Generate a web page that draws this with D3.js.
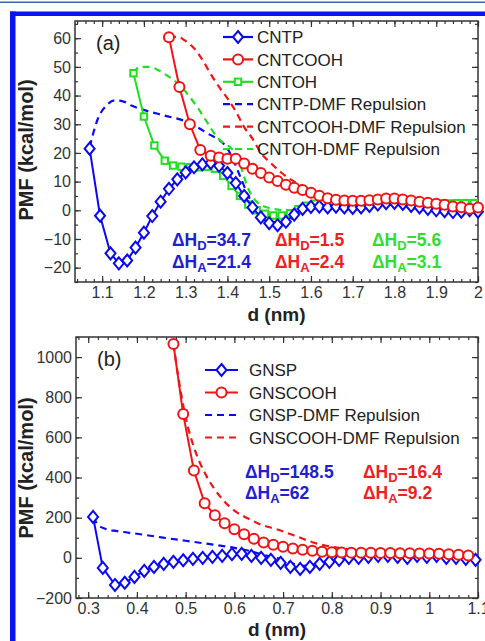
<!DOCTYPE html>
<html>
<head>
<meta charset="UTF-8">
<title>PMF vs distance</title>
<script src="https://d3js.org/d3.v7.min.js"></script>
<style>
  body { margin: 0; background: #fff; }
  svg { display: block; font-family: "Liberation Sans", Arial, sans-serif; }
  .tick text { font-size: 16px; fill: #333; }
  .tick line { stroke: #333; stroke-width: 1.2; }
  .legend text { font-size: 17px; fill: #222; }
  .axis-title { font-size: 20px; font-weight: bold; fill: #222; }
  .x-title { font-size: 19px; }
  .note { font-size: 17.5px; font-weight: bold; }
</style>
</head>
<body>
<svg width="485" height="641"></svg>
<script>
// ---- panel (a): CNT ----
const cntpD = [1.07,1.095,1.12,1.14,1.16,1.18,1.20,1.22,1.24,1.26,1.28,1.30,1.32,1.34,1.36,1.38,1.40,1.42,1.44,1.46,1.48,1.50,1.52,1.54,1.56,1.58,1.60,1.62,1.64,1.66,1.68,1.70,1.72,1.74,1.76,1.78,1.80,1.82,1.84,1.86,1.88,1.90,1.92,1.94,1.96,1.98,2.00];
const cntpPMF = [21.5,-1.9,-15,-18.5,-17.5,-13,-7.8,-2,3,7.5,10.8,13.2,15,16,16.5,15.5,13,9.5,5,1,-2.5,-4.5,-5.2,-4,-1.5,0.5,1.2,1.3,1.0,1.3,1.0,0.8,1.0,1.5,2.0,2.5,2.6,2.2,1.5,1.0,0.5,0.0,-0.3,-0.6,-0.5,0.0,-0.5];
const cntcoohD = [1.26,1.285,1.31,1.335,1.36,1.38,1.40,1.42,1.44,1.46,1.48,1.50,1.52,1.54,1.56,1.58,1.60,1.62,1.64,1.66,1.68,1.70,1.72,1.74,1.76,1.78,1.80,1.82,1.84,1.86,1.88,1.90,1.92,1.94,1.96,1.98,2.00];
const cntcoohPMF = [60.3,43,30,21,19,18.4,18,18,16.3,14.5,13,11.4,10.2,8.9,7.9,7.1,6.1,5.1,4.2,3.7,3.4,3.3,3.3,3.5,3.8,4.1,4.1,3.8,3.4,3.0,2.6,2.3,1.9,1.3,1.1,0.5,1.0];
const cntohD = [1.175,1.20,1.225,1.25,1.27,1.29,1.31,1.33,1.35,1.37,1.39,1.41,1.43,1.45,1.47,1.49,1.51,1.53,1.55,1.57,1.59,1.61,1.63,1.65,1.67,1.69,1.71,1.73,1.75,1.77,1.79,1.81,1.83,1.85,1.87,1.89,1.91,1.93,1.95,1.97,1.99];
const cntohPMF = [47.8,32.7,22.6,17.3,15.6,15.2,15.0,15.0,15.2,14.5,12.0,8.5,5.0,2.0,0.0,-1.2,-1.8,-1.8,-1.0,0.4,1.6,2.3,2.5,2.7,2.8,2.8,2.7,2.7,2.8,3.0,3.1,3.0,2.8,2.6,2.5,2.4,2.4,2.4,2.5,2.5,2.5];
const cntpRepD = [1.07,1.09,1.11,1.13,1.15,1.17,1.20,1.25,1.30,1.35,1.40,1.43,1.45,1.47,1.50,1.53,1.56,1.60,1.65,1.70,1.80,1.90,2.00];
const cntpRepPMF = [22,32,36.5,38.3,38,36.5,35,33,31,27,21.5,12,5,0,-3.5,-4.5,-2.5,0.5,1.0,1.0,2.0,0.5,0];
const cntcoohRepD = [1.26,1.28,1.30,1.32,1.34,1.36,1.38,1.40,1.42,1.44,1.46,1.48,1.50,1.53,1.56,1.60,1.65,1.70,1.75,1.80,1.85,1.90,1.95,2.00];
const cntcoohRepPMF = [60.5,60.5,59,56.5,52.5,47.5,43,39,34.5,29,25,20,17,13,10,7,4.2,3.4,3.6,4.1,3.2,2.3,1.2,1.0];
const cntohRepD = [1.175,1.19,1.21,1.23,1.25,1.27,1.29,1.31,1.33,1.35,1.37,1.39,1.41,1.43,1.45,1.47,1.50,1.55,1.60,1.65,1.70,1.80,1.90,2.00];
const cntohRepPMF = [47.8,50,50,49.2,47.5,45.5,43,39.5,35.5,31,26.5,23.5,21.5,16,7.5,3,0.8,-0.1,1.2,2,2.2,2.6,1.9,2];

// ---- panel (b): GNS ----
const gnspD = [0.31,0.33,0.355,0.375,0.395,0.415,0.435,0.455,0.475,0.495,0.515,0.535,0.555,0.575,0.595,0.615,0.635,0.655,0.675,0.695,0.715,0.735,0.755,0.775,0.795,0.815,0.835,0.855,0.875,0.895,0.915,0.935,0.955,0.975,0.995,1.015,1.035,1.055,1.075,1.095];
const gnspPMF = [204,-50,-135,-124,-95,-65,-45,-30,-20,-12,-5,0,5,10,18,20,10,0,-10,-25,-45,-55,-45,-30,-20,-10,0,0,5,10,10,5,0,10,5,10,0,0,-5,-10];
const gnscoohD = [0.475,0.495,0.517,0.539,0.56,0.58,0.60,0.62,0.64,0.66,0.68,0.70,0.72,0.74,0.76,0.78,0.80,0.82,0.84,0.86,0.88,0.90,0.92,0.94,0.96,0.98,1.00,1.02,1.04,1.06,1.08];
const gnscoohPMF = [1065,716,435,272,212,172,143,118,95,77,65,55,46,40,35,30,28,27,26,25,25,24,24,23,23,22,22,20,18,15,12];
const gnspRepD = [0.31,0.32,0.335,0.36,0.40,0.45,0.50,0.55,0.60,0.63,0.66,0.70,0.74,0.78,0.82,0.86,0.90,0.95,1.00,1.05,1.10];
const gnspRepPMF = [204,165,145,133,120,102,85,68,50,35,15,-10,-40,-25,-8,2,8,4,6,2,-8];
const gnscoohRepD = [0.475,0.485,0.50,0.52,0.54,0.56,0.58,0.60,0.625,0.65,0.69,0.73,0.76,0.80,0.85,0.90,0.95,1.00,1.05,1.10];
const gnscoohRepPMF = [1065,900,700,530,420,340,280,235,200,170,140,105,78,55,40,32,28,25,20,12];

// ticks
const aXTicks = [1.1,1.2,1.3,1.4,1.5,1.6,1.7,1.8,1.9,2];
const aYTicks = [-20,-10,0,10,20,30,40,50,60];
const bXTicks = [0.3,0.4,0.5,0.6,0.7,0.8,0.9,1,1.1];
const bYTicks = [-200,0,200,400,600,800,1000];

const BLUE = "#0a0af0", RED = "#f01414", GREEN = "#1ee01e";

const svg = d3.select("svg");

// outer blue frame
svg.append("rect").attr("x", 0).attr("y", 1.5).attr("width", 485).attr("height", 1.5).attr("fill", "#3a64a8");
svg.append("rect").attr("x", 10).attr("y", 11.5).attr("width", 475).attr("height", 4.5).attr("fill", "#0a14f0");
svg.append("rect").attr("x", 10).attr("y", 11.5).attr("width", 5.5).attr("height", 630).attr("fill", "#0a14f0");

const fmt = d => d < 0 ? "\u2212" + Math.abs(d) : String(d);

function range(a, b, s) {
  const out = [];
  for (let i = 0; a + i * s <= b + 1e-9; i++) out.push(+(a + i * s).toFixed(4));
  return out;
}

function marker(sel, type, color) {
  if (type === "diamond") {
    sel.append("path").attr("d", "M0,-6L5,0L0,6L-5,0Z");
  } else if (type === "circle") {
    sel.append("circle").attr("r", 5);
  } else {
    sel.append("rect").attr("x", -3.2).attr("y", -3.2).attr("width", 6.4).attr("height", 6.4);
  }
  sel.selectAll("path,circle,rect").attr("fill", "#fff").attr("stroke", color).attr("stroke-width", 2);
}

function panel(p) {
  const x = d3.scaleLinear().domain(p.xDom).range([p.left, p.right]);
  const y = d3.scaleLinear().domain(p.yDom).range([p.bottom, p.top]);
  const g = svg.append("g");

  const axes = [
    [() => d3.axisBottom(x), p.bottom, "x", true],
    [() => d3.axisTop(x), p.top, "x", false],
    [() => d3.axisLeft(y), p.left, "y", true],
    [() => d3.axisRight(y), p.right, "y", false]
  ];
  axes.forEach(([mk, pos, dir, labels]) => {
    const tr = dir === "x" ? `translate(0,${pos})` : `translate(${pos},0)`;
    g.append("g").attr("transform", tr)
      .call(mk().tickValues(dir === "x" ? p.xMinor : p.yMinor).tickSize(-3).tickFormat(""))
      .call(s => s.select(".domain").remove());
    g.append("g").attr("transform", tr)
      .call(mk().tickValues(dir === "x" ? p.xTicks : p.yTicks).tickSize(-6)
        .tickPadding(dir === "x" ? 5 : 4).tickFormat(labels ? fmt : ""))
      .call(s => s.select(".domain").remove());
  });

  g.append("rect").attr("x", p.left).attr("y", p.top)
    .attr("width", p.right - p.left).attr("height", p.bottom - p.top)
    .attr("fill", "none").attr("stroke", "#333").attr("stroke-width", 1.5);

  // dashed repulsion curves
  const smooth = d3.line().x(d => x(d[0])).y(d => y(d[1])).curve(d3.curveMonotoneX);
  p.dashed.forEach(s => {
    g.append("path").attr("d", smooth(d3.zip(s.d, s.v)))
      .attr("fill", "none").attr("stroke", s.color).attr("stroke-width", 2.2)
      .attr("stroke-dasharray", "7,5");
  });

  // solid PMF curves with markers
  const straight = d3.line().x(d => x(d[0])).y(d => y(d[1]));
  p.solid.forEach(s => {
    const pts = d3.zip(s.d, s.v);
    g.append("path").attr("d", straight(pts))
      .attr("fill", "none").attr("stroke", s.color).attr("stroke-width", 2);
    g.selectAll(null).data(pts).enter().append("g")
      .attr("transform", d => `translate(${x(d[0])},${y(d[1])})`)
      .each(function () { marker(d3.select(this), s.marker, s.color); });
  });

  // panel label
  g.append("text").attr("x", p.left + 21).attr("y", p.top + 29)
    .attr("font-size", 20).attr("fill", "#222").text(p.label);

  // legend
  const lg = g.append("g").attr("class", "legend");
  p.legend.items.forEach((it, i) => {
    const ly = p.legend.y + i * p.legend.step;
    const x0 = p.legend.x0, x1 = p.legend.x1;
    lg.append("line").attr("x1", x0).attr("x2", x1).attr("y1", ly).attr("y2", ly)
      .attr("stroke", it.color).attr("stroke-width", 2.2)
      .attr("stroke-dasharray", it.marker ? null : "7,5");
    if (it.marker) {
      const m = lg.append("g").attr("transform", `translate(${(x0 + x1) / 2},${ly})`);
      marker(m, it.marker, it.color);
    }
    lg.append("text").attr("x", p.legend.tx).attr("y", ly).attr("dy", "0.36em").text(it.label);
  });

  // enthalpy notes
  p.notes.forEach(n => {
    ["D", "A"].forEach((sub, j) => {
      const t = g.append("text").attr("class", "note").attr("fill", n.color)
        .attr("x", n.x).attr("y", p.noteY[j]);
      t.append("tspan").text("\u0394H");
      t.append("tspan").attr("font-size", 13).attr("dy", 4).text(sub);
      t.append("tspan").attr("dy", -4).text("=" + n.vals[j]);
    });
  });

  // axis titles
  g.append("text").attr("class", "axis-title x-title").attr("text-anchor", "middle")
    .attr("x", (p.left + p.right) / 2).attr("y", p.xTitleY).text("d (nm)");
  g.append("text").attr("class", "axis-title").attr("text-anchor", "middle")
    .attr("transform", `translate(33,${p.yTitleY}) rotate(-90)`)
    .text("PMF (kcal/mol)");
}

panel({
  label: "(a)",
  left: 75, right: 478, top: 21, bottom: 282,
  xDom: [1.035, 2.0], yDom: [-25, 66],
  xTicks: aXTicks, yTicks: aYTicks,
  xMinor: range(1.04, 2.0, 0.02), yMinor: range(-25, 65, 5),
  xTitleY: 321, yTitleY: 150,
  dashed: [
    { d: cntpRepD, v: cntpRepPMF, color: BLUE },
    { d: cntcoohRepD, v: cntcoohRepPMF, color: RED },
    { d: cntohRepD, v: cntohRepPMF, color: GREEN }
  ],
  solid: [
    { d: cntohD, v: cntohPMF, color: GREEN, marker: "square" },
    { d: cntpD, v: cntpPMF, color: BLUE, marker: "diamond" },
    { d: cntcoohD, v: cntcoohPMF, color: RED, marker: "circle" }
  ],
  legend: {
    x0: 223, x1: 253, tx: 257, y: 37, step: 22.4,
    items: [
      { label: "CNTP", color: BLUE, marker: "diamond" },
      { label: "CNTCOOH", color: RED, marker: "circle" },
      { label: "CNTOH", color: GREEN, marker: "square" },
      { label: "CNTP-DMF Repulsion", color: BLUE },
      { label: "CNTCOOH-DMF Repulsion", color: RED },
      { label: "CNTOH-DMF Repulsion", color: GREEN }
    ]
  },
  noteY: [246, 268],
  notes: [
    { x: 172, color: "#2020d0", vals: ["34.7", "21.4"] },
    { x: 275, color: "#ee2020", vals: ["1.5", "2.4"] },
    { x: 372, color: "#30dd30", vals: ["5.6", "3.1"] }
  ]
});

panel({
  label: "(b)",
  left: 76, right: 478, top: 337, bottom: 598,
  xDom: [0.275, 1.1], yDom: [-200, 1100],
  xTicks: bXTicks, yTicks: bYTicks,
  xMinor: range(0.28, 1.1, 0.02), yMinor: range(-200, 1100, 100),
  xTitleY: 636, yTitleY: 468,
  dashed: [
    { d: gnspRepD, v: gnspRepPMF, color: BLUE },
    { d: gnscoohRepD, v: gnscoohRepPMF, color: RED }
  ],
  solid: [
    { d: gnspD, v: gnspPMF, color: BLUE, marker: "diamond" },
    { d: gnscoohD, v: gnscoohPMF, color: RED, marker: "circle" }
  ],
  legend: {
    x0: 205, x1: 238, tx: 249, y: 370, step: 22.5,
    items: [
      { label: "GNSP", color: BLUE, marker: "diamond" },
      { label: "GNSCOOH", color: RED, marker: "circle" },
      { label: "GNSP-DMF Repulsion", color: BLUE },
      { label: "GNSCOOH-DMF Repulsion", color: RED }
    ]
  },
  noteY: [478, 499],
  notes: [
    { x: 245, color: "#2020d0", vals: ["148.5", "62"] },
    { x: 363, color: "#ee2020", vals: ["16.4", "9.2"] }
  ]
});
</script>
</body>
</html>
